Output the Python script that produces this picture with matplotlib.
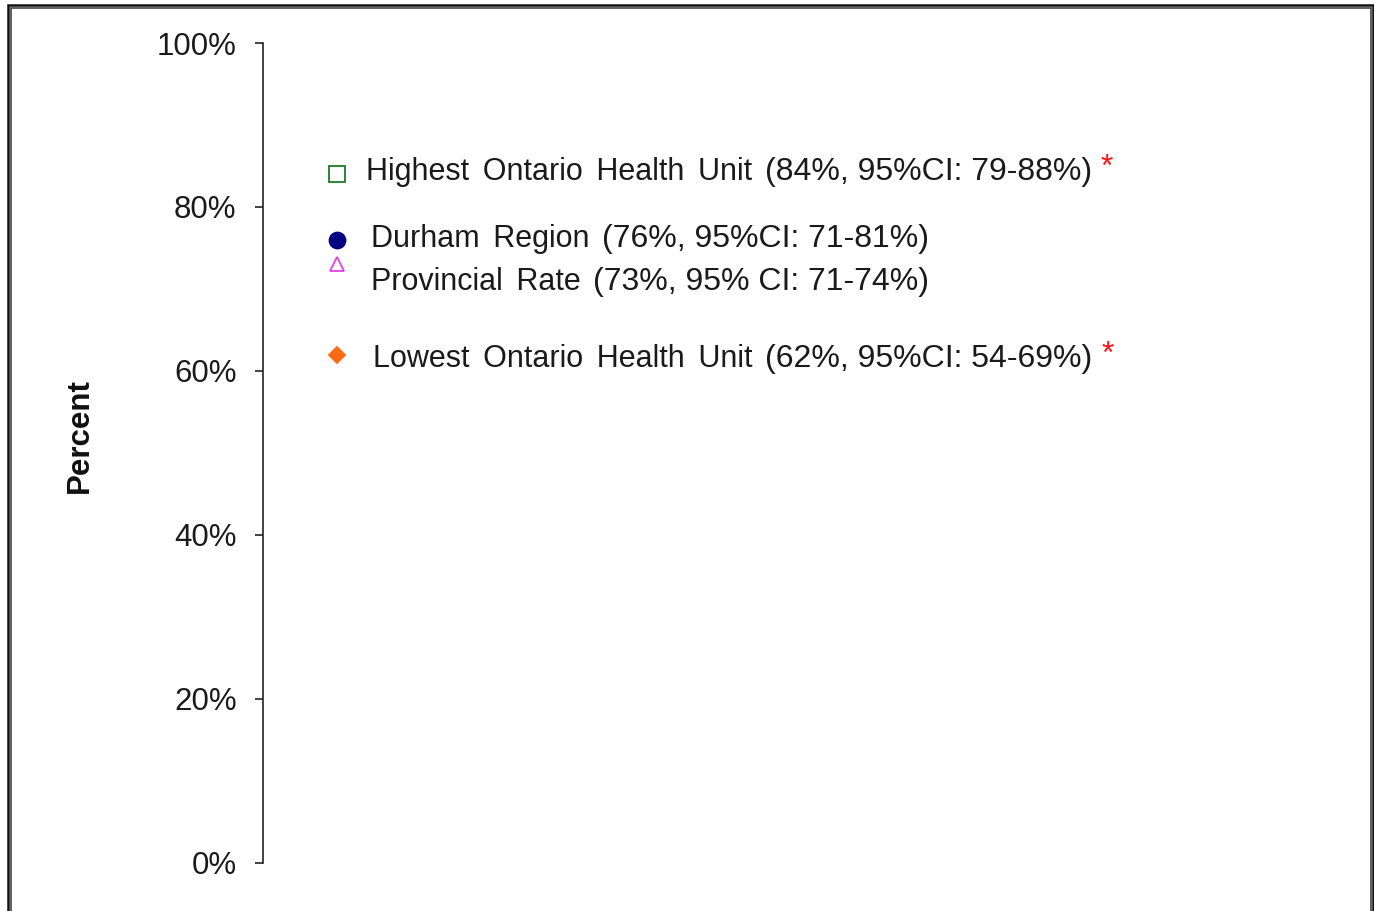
import matplotlib
matplotlib.use("Agg")
import matplotlib.pyplot as plt
from matplotlib.lines import Line2D

plt.rcParams['font.family'] = ['Liberation Sans', 'DejaVu Sans']

# Data
series_names = ["Highest Ontario Health Unit", "Durham Region", "Provincial Rate", "Lowest Ontario Health Unit"]
values = [84, 76, 73, 62]
ci_text = ["(84%, 95%CI: 79-88%)", "(76%, 95%CI: 71-81%)", "(73%, 95% CI: 71-74%)", "(62%, 95%CI: 54-69%)"]
significant = [True, False, False, True]
yticks = [0, 20, 40, 60, 80, 100]
ytick_labels = ["0%", "20%", "40%", "60%", "80%", "100%"]

# Styles
markers = ['s', 'o', '^', 'D']
face = ['none', '#000080', 'none', '#FF6A13']
edge = ['#1E7A2A', '#000080', '#E040E0', '#FF6A13']
msize = [11.5, 11.5, 10.5, 8.5]
label_pos = [(0.0995, 83.3), (0.104, 75.1), (0.104, 69.9), (0.106, 60.5)]   # baseline positions
marker_x = 0.0714
GAP = " \u2006"   # slightly widened word spacing

W, H = 1374, 911
fig = plt.figure(figsize=(W / 100, H / 100), dpi=100)
ax = fig.add_axes([263 / W, 1 - 863 / H, 1037 / W, 820 / H])
ax.set_xlim(0, 1)
ax.set_ylim(0, 100)

for v, m, fc, ec, ms in zip(values, markers, face, edge, msize):
    ax.plot([marker_x], [v], marker=m, markersize=ms, markerfacecolor=fc,
            markeredgecolor=ec, markeredgewidth=1.3, linestyle='none', clip_on=False)

for name, ci, (lx, ly), sig in zip(series_names, ci_text, label_pos, significant):
    t1 = ax.text(lx, ly, GAP.join(name.split(" ")), fontsize=22, color='#1a1a1a',
                 va='baseline', ha='left')
    t2 = ax.annotate(ci, xy=(1, ly), xycoords=(t1, 'data'), xytext=(9, 0),
                     textcoords='offset points', fontsize=23, color='#1a1a1a',
                     va='baseline', ha='left')
    if sig:
        ax.annotate("*", xy=(1, ly), xycoords=(t2, 'data'), xytext=(6.5, 3),
                    textcoords='offset points', fontsize=23, color='#FF1010',
                    va='baseline', ha='left')

ax.set_yticks(yticks)
ax.set_yticklabels(ytick_labels, fontsize=22.5, color='#1a1a1a')
ax.tick_params(axis='y', direction='out', length=6, width=1.2, pad=13, color='#222222')
ax.set_xticks([])
for s in ['top', 'right', 'bottom']:
    ax.spines[s].set_visible(False)
ax.spines['left'].set_color('#222222')
ax.spines['left'].set_linewidth(1.2)

fig.text(80 / W, 1 - 436 / H, "Percent", rotation=90, fontsize=22.5, fontweight='bold',
         color='#111111', ha='center', va='center')

# double border around the picture (bottom edge cut off)
def border(left, top, right, lw, col):
    xs = [left / W, left / W, right / W, right / W]
    ys = [-0.05, 1 - top / H, 1 - top / H, -0.05]
    fig.add_artist(Line2D(xs, ys, transform=fig.transFigure, color=col, linewidth=lw,
                          solid_joinstyle='miter'))

border(7.5, 4.5, 1372.5, 1.8, '#111111')
border(10.5, 7.5, 1370.5, 1.2, '#444444')

fig.savefig("out.png", dpi=100, facecolor='white')
